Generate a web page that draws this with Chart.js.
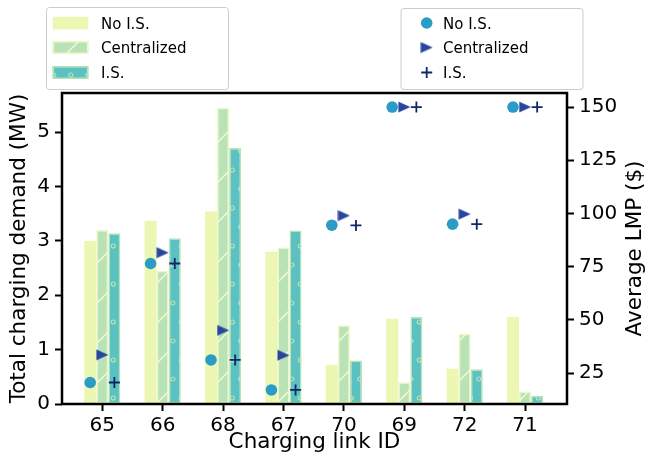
<!DOCTYPE html>
<html lang="en">
<head>
<meta charset="UTF-8">
<title>Charging demand and LMP</title>
<script src="https://cdn.jsdelivr.net/npm/chart.js"></script>
<style>
  body { margin: 0; background: #fff; }
  #wrap { width: 646px; height: 457px; }
</style>
</head>
<body>
<div id="wrap"><canvas id="chart" width="646" height="457"></canvas></div>
<script>
// link ids in plotted order
const linkIds = ['65', '66', '68', '67', '70', '69', '72', '71'];

// total charging demand (MW)
const demandNoIS    = [3.00, 3.37, 3.54, 2.80, 0.72, 1.57, 0.65, 1.60];
const demandCentral = [3.20, 2.45, 5.45, 2.88, 1.45, 0.40, 1.29, 0.23];
const demandIS      = [3.14, 3.05, 4.71, 3.19, 0.80, 1.60, 0.64, 0.15];

// average LMP ($)
const lmpNoIS    = [20.6, 76.5, 31.2, 17.1, 94.5, 150, 95.0, 150];
const lmpCentral = [33.6, 81.6, 45.1, 33.4, 99.0, 150, 99.7, 150];
const lmpIS      = [20.6, 76.5, 31.2, 17.1, 94.4, 150, 95.0, 150];

const demandTicks = [0, 1, 2, 3, 4, 5];
const lmpTicks = [25, 50, 75, 100, 125, 150];

const FONT = 'DejaVu Sans';
Chart.defaults.font.family = FONT;
Chart.defaults.color = '#000';

const canvas = document.getElementById('chart');
const ctx = canvas.getContext('2d');

function slashPattern(base, line) {
    const c = document.createElement('canvas');
    c.width = 40; c.height = 40;
    const g = c.getContext('2d');
    g.fillStyle = base;
    g.fillRect(0, 0, 40, 40);
    g.strokeStyle = line;
    g.lineWidth = 1.4;
    [[-5, 45, 45, -5], [-5, 5, 5, -5], [35, 45, 45, 35]].forEach(s => {
        g.beginPath(); g.moveTo(s[0], s[1]); g.lineTo(s[2], s[3]); g.stroke();
    });
    return ctx.createPattern(c, 'repeat');
}

function circlePattern(base, ring) {
    const w = 17, h = 38;
    const c = document.createElement('canvas');
    c.width = w; c.height = h;
    const g = c.getContext('2d');
    g.fillStyle = base;
    g.fillRect(0, 0, w, h);
    g.strokeStyle = ring;
    g.lineWidth = 1.2;
    [[11.3, 18], [2.8, 37]].forEach(p => {
        for (const dx of [-w, 0, w]) for (const dy of [-h, 0, h]) {
            g.beginPath(); g.arc(p[0] + dx, p[1] + dy, 2, 0, Math.PI * 2); g.stroke();
        }
    });
    return ctx.createPattern(c, 'repeat');
}

function triangleMarker(color) {
    const c = document.createElement('canvas');
    c.width = 13; c.height = 12;
    const g = c.getContext('2d');
    g.fillStyle = color;
    g.beginPath();
    g.moveTo(0.5, 0.5); g.lineTo(12.5, 6); g.lineTo(0.5, 11.5);
    g.closePath(); g.fill();
    return c;
}

const colNoIS = '#ebf7b3';
const colCentral = '#b9e3b6';
const colIS = '#5bc1c1';
const fillCentral = slashPattern(colCentral, '#f4fad2');
const fillIS = circlePattern(colIS, '#b9e3b6');
const triImg = triangleMarker('#2846a0');

const points = (vals, shift) => vals.map((v, i) => ({ x: i + shift, y: v }));

const datasets = [
    { type: 'bar', label: 'No I.S.', data: points(demandNoIS, 0), yAxisID: 'y',
      backgroundColor: colNoIS, borderWidth: 0, order: 2 },
    { type: 'bar', label: 'Centralized', data: points(demandCentral, 0), yAxisID: 'y',
      backgroundColor: fillCentral, borderColor: '#eef7c4', borderWidth: 1.5, borderSkipped: false, order: 2 },
    { type: 'bar', label: 'I.S.', data: points(demandIS, 0), yAxisID: 'y',
      backgroundColor: fillIS, borderColor: '#b9e3b6', borderWidth: 1.5, borderSkipped: false, order: 2 },
    { type: 'line', label: 'No I.S.', data: points(lmpNoIS, -0.2), yAxisID: 'y2', showLine: false,
      pointStyle: 'circle', pointRadius: 5.8, backgroundColor: '#2a9cc6', borderColor: '#2a9cc6', borderWidth: 0, order: 1 },
    { type: 'line', label: 'Centralized', data: points(lmpCentral, 0), yAxisID: 'y2', showLine: false,
      pointStyle: triImg, pointRadius: 6, backgroundColor: '#2846a0', order: 1 },
    { type: 'line', label: 'I.S.', data: points(lmpIS, 0.2), yAxisID: 'y2', showLine: false,
      pointStyle: 'cross', pointRadius: 5.5, borderColor: '#0f2766', borderWidth: 1.8, order: 1 }
];

const tickGrid = { display: true, drawOnChartArea: false, drawTicks: true, tickLength: 7, tickWidth: 2, tickColor: '#000', offset: false };

function drawLegendBox(g, x, y, w, h) {
    g.save();
    g.fillStyle = 'rgba(255,255,255,0.8)';
    g.strokeStyle = '#cccccc';
    g.lineWidth = 1;
    g.beginPath();
    g.roundRect(x + 0.5, y + 0.5, w, h, 3);
    g.fill(); g.stroke();
    g.restore();
}

const extras = {
    id: 'extras',
    afterDraw(chart) {
        const g = chart.ctx;
        const a = chart.chartArea;
        // frame
        g.save();
        g.strokeStyle = '#000';
        g.lineWidth = 2.5;
        g.strokeRect(a.left, a.top, a.right - a.left, a.bottom - a.top);
        g.restore();

        // right axis title, reading bottom to top
        g.save();
        g.translate(641, (a.top + a.bottom) / 2);
        g.rotate(-Math.PI / 2);
        g.font = '21.5px "' + FONT + '"';
        g.fillStyle = '#000';
        g.textAlign = 'center';
        g.textBaseline = 'alphabetic';
        g.fillText('Average LMP ($)', 0, 0);
        g.restore();

        g.font = '15px "' + FONT + '"';
        g.textBaseline = 'alphabetic';
        g.textAlign = 'left';
        const rows = [23, 47.5, 72.5];

        // bar legend
        drawLegendBox(g, 46, 7, 182, 82);
        [0, 1, 2].forEach(i => {
            const ds = chart.data.datasets[i];
            g.fillStyle = ds.backgroundColor;
            g.fillRect(52.7, rows[i] - 6.3, 35.6, 12.7);
            if (ds.borderWidth) {
                g.strokeStyle = ds.borderColor;
                g.lineWidth = 1.5;
                g.strokeRect(53.4, rows[i] - 5.6, 34.2, 11.3);
            }
            g.fillStyle = '#000';
            g.fillText(ds.label, 101, rows[i] + 5.5);
        });

        // marker legend
        drawLegendBox(g, 400.5, 8, 182, 81);
        const mx = 426.7;
        g.fillStyle = '#2a9cc6';
        g.beginPath(); g.arc(mx, rows[0], 5.8, 0, Math.PI * 2); g.fill();
        g.drawImage(triImg, mx - 6.5, rows[1] - 6);
        g.strokeStyle = '#0f2766';
        g.lineWidth = 1.8;
        g.beginPath();
        g.moveTo(mx - 5.5, rows[2]); g.lineTo(mx + 5.5, rows[2]);
        g.moveTo(mx, rows[2] - 5.5); g.lineTo(mx, rows[2] + 5.5);
        g.stroke();
        g.fillStyle = '#000';
        [3, 4, 5].forEach((d, i) => g.fillText(chart.data.datasets[d].label, 443, rows[i] + 5.5));
    }
};

new Chart(ctx, {
    type: 'bar',
    data: { datasets: datasets },
    options: {
        responsive: false,
        animation: false,
        layout: { padding: { top: 93, left: 0, right: 0, bottom: 0 } },
        datasets: { bar: { categoryPercentage: 0.6, barPercentage: 1.0 } },
        plugins: { legend: { display: false }, tooltip: { enabled: false } },
        scales: {
            x: {
                type: 'linear', min: -0.667, max: 7.694, offset: false,
                afterBuildTicks: s => { s.ticks = linkIds.map((_, i) => ({ value: i })); },
                afterFit: s => { s.height = 53; },
                ticks: { callback: (v, i) => linkIds[i], font: { size: 20 }, padding: 3, maxRotation: 0, autoSkip: false },
                grid: tickGrid,
                border: { display: false },
                title: { display: true, text: 'Charging link ID', font: { size: 21.5 }, padding: { top: 0, bottom: 2 } }
            },
            y: {
                type: 'linear', position: 'left', min: 0, max: 5.72,
                afterBuildTicks: s => { s.ticks = demandTicks.map(v => ({ value: v })); },
                afterFit: s => { s.width = 62; },
                ticks: { font: { size: 20 }, padding: 5 },
                grid: tickGrid,
                border: { display: false },
                title: { display: true, text: 'Total charging demand (MW)', font: { size: 21.5 }, padding: { top: 7, bottom: 0 } }
            },
            y2: {
                type: 'linear', position: 'right', min: 10.5, max: 156.6,
                afterBuildTicks: s => { s.ticks = lmpTicks.map(v => ({ value: v })); },
                afterFit: s => { s.width = 79; },
                ticks: { font: { size: 20 }, padding: 5 },
                grid: tickGrid,
                border: { display: false }
            }
        }
    },
    plugins: [extras]
});
</script>
</body>
</html>
